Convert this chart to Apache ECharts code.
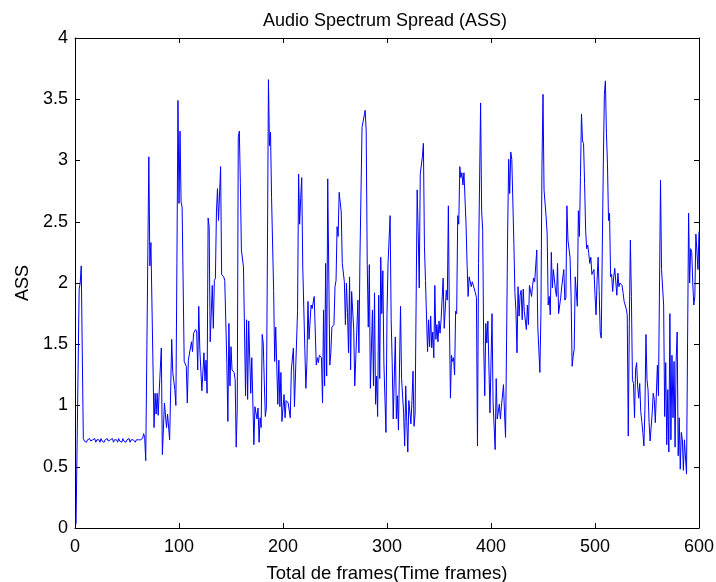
<!DOCTYPE html>
<html>
<head>
<meta charset="utf-8">
<script src="https://cdn.jsdelivr.net/npm/echarts@6/dist/echarts.min.js"></script>
<style>
  html, body { margin: 0; padding: 0; background: #fff; }
  #main { width: 716px; height: 582px; }
</style>
</head>
<body>
<div id="main"></div>
<script>
// frame index -> ASS value
var startPts = [[1, 0.03], [2, 0.02], [4, 1.95], [5, 2.0], [6, 2.14]];

// frames 8..65, the quiet part
var flatStart = 8;
var flatVals = [0.73, 0.71, 0.72, 0.70, 0.72, 0.71, 0.73, 0.71, 0.70, 0.72,
  0.71, 0.73, 0.70, 0.72, 0.71, 0.72, 0.70, 0.73, 0.71, 0.72,
  0.70, 0.72, 0.71, 0.73, 0.71, 0.70, 0.72, 0.71, 0.73, 0.70,
  0.72, 0.71, 0.72, 0.70, 0.73, 0.71, 0.72, 0.70, 0.73, 0.71,
  0.72, 0.70, 0.72, 0.71, 0.73, 0.70, 0.72, 0.71, 0.72, 0.71,
  0.70, 0.72, 0.71, 0.72, 0.71, 0.72, 0.72, 0.73];

var burstPts = [[66, 0.77], [67, 0.74], [68, 0.55], [71, 3.03], [72, 2.14], [73, 2.33], [76, 0.82], [77, 1.1], [78, 0.93], [79, 1.1],
  [80, 0.92], [81, 1.12], [83, 1.47], [84, 0.6], [86, 1.02], [88, 0.82], [89, 0.93], [91, 0.72], [93, 1.54], [94, 1.27],
  [96, 1.13], [97, 1.0], [98, 2.16], [99, 3.49], [100, 2.65], [101, 3.24], [102, 2.66], [103, 2.62], [105, 1.36], [107, 1.32],
  [108, 1.02], [109, 1.37], [110, 1.36], [112, 1.52], [113, 1.44], [114, 1.59], [116, 1.62], [117, 1.6], [118, 1.29], [119, 1.81],
  [120, 1.46], [121, 1.29], [122, 1.12], [124, 1.43], [125, 1.2], [126, 1.37], [127, 1.1], [128, 2.53], [129, 2.46], [130, 1.52],
  [132, 1.98], [133, 1.63], [134, 2.02], [135, 2.04], [136, 2.58], [137, 2.77], [138, 2.51], [140, 2.95], [141, 2.07], [143, 2.05],
  [144, 2.02], [146, 1.35], [147, 0.87], [148, 1.67], [149, 1.16], [150, 1.48], [151, 1.29], [153, 1.27], [154, 1.21], [155, 0.66],
  [156, 0.97], [157, 3.19], [158, 3.24], [159, 2.81], [160, 2.27], [162, 2.13], [164, 1.08], [165, 1.7], [166, 1.05], [167, 1.69],
  [169, 1.1], [170, 1.39], [172, 0.68], [173, 0.99], [175, 0.89], [176, 0.98], [177, 0.7], [178, 0.9], [179, 0.82], [180, 1.58],
  [181, 1.51], [182, 1.2], [183, 0.91], [184, 0.98], [185, 2.21], [186, 3.66], [187, 3.12], [188, 3.23], [189, 2.7], [191, 1.94],
  [192, 1.36], [193, 1.64], [195, 1.01], [196, 1.37], [197, 0.99], [198, 1.27], [199, 0.87], [201, 1.09], [202, 0.9], [203, 1.04],
  [205, 1.02], [207, 0.9], [208, 1.29], [210, 1.47], [211, 0.99], [212, 1.25], [214, 1.77], [215, 2.89], [216, 2.48], [217, 2.69],
  [218, 2.86], [219, 2.13], [221, 1.46], [222, 1.14], [223, 1.35], [224, 1.85], [225, 1.54], [227, 1.82], [228, 1.79]];

var midPts = [[230, 1.89], [232, 1.33], [233, 1.39], [234, 1.35], [235, 1.41], [237, 1.39], [238, 1.02], [239, 1.78], [240, 1.16], [241, 2.16],
  [242, 1.24], [243, 2.85], [245, 1.33], [246, 1.43], [247, 1.64], [249, 1.66], [250, 1.97], [251, 2.02], [252, 2.46], [253, 2.38],
  [254, 2.74], [256, 2.58], [257, 2.16], [259, 2.01], [260, 1.66], [261, 2.0], [262, 1.76], [263, 1.43], [264, 2.05], [265, 1.29],
  [266, 1.93], [268, 1.62], [269, 1.16], [271, 1.62], [272, 1.86], [273, 1.43], [274, 2.21], [276, 3.27], [277, 3.26], [279, 3.41],
  [280, 3.24], [281, 2.15], [282, 1.64], [283, 2.15], [284, 1.14], [286, 1.78], [287, 1.16], [288, 1.92], [289, 1.01], [290, 1.24],
  [291, 0.91], [292, 1.9], [293, 1.22], [294, 2.21], [295, 1.75], [296, 2.1], [297, 1.35], [298, 1.36], [299, 0.78], [300, 1.75],
  [301, 2.16], [303, 2.55], [304, 1.7], [305, 1.35], [306, 0.89], [308, 1.56], [309, 0.89], [310, 1.08], [311, 0.8], [313, 1.81],
  [314, 1.22], [316, 0.94], [317, 0.67], [318, 1.16], [319, 0.87], [320, 0.62], [321, 1.04], [323, 0.85], [324, 1.04], [325, 1.28],
  [326, 0.83], [327, 0.93], [329, 2.76], [330, 2.42], [331, 1.96], [332, 2.89], [334, 3.03], [335, 3.14], [336, 2.3], [337, 2.02],
  [339, 1.44], [340, 1.7], [341, 1.48], [342, 1.73], [343, 1.47], [344, 1.6], [345, 1.39], [346, 1.98], [347, 1.54], [348, 1.66],
  [349, 1.52], [350, 1.69], [351, 1.59], [352, 1.7], [354, 2.04], [355, 1.63], [357, 1.94], [358, 1.86], [359, 2.63], [360, 1.7],
  [361, 1.06], [362, 1.41], [363, 1.36], [364, 1.39], [365, 1.25], [366, 1.77], [367, 1.75], [368, 2.55], [369, 2.48], [370, 2.95],
  [371, 2.86], [372, 2.9], [373, 2.8], [374, 2.9], [376, 2.48], [377, 2.15], [378, 1.89], [379, 2.05], [381, 1.97], [382, 2.01],
  [383, 2.02], [385, 1.92], [386, 1.88], [387, 0.67], [388, 2.16], [390, 3.47], [391, 2.59], [392, 2.43], [393, 1.48], [394, 1.08],
  [395, 1.67], [396, 1.51], [397, 1.69], [399, 0.94], [400, 0.95], [401, 1.75], [402, 1.02], [404, 0.64], [405, 1.22], [406, 0.89],
  [407, 0.9], [408, 1.01], [409, 0.89], [410, 0.99], [412, 1.17], [413, 0.94], [414, 0.74], [415, 1.54], [416, 2.4], [417, 3.01],
  [418, 2.73], [419, 3.07], [420, 3.01], [422, 2.32], [423, 1.92], [424, 1.77], [425, 1.43], [426, 1.97], [427, 1.73], [428, 1.9],
  [429, 1.94], [430, 1.7], [431, 1.95], [432, 1.77], [434, 1.62], [435, 1.82], [436, 1.66], [437, 1.98], [439, 1.89], [440, 1.98],
  [441, 2.04], [442, 2.01], [444, 2.27], [445, 1.64], [447, 1.27], [448, 1.75], [449, 2.95], [450, 3.54], [451, 2.76], [453, 2.54],
  [454, 2.4], [455, 1.82], [456, 1.89], [457, 1.74], [458, 2.25], [459, 1.96]];

var endPts = [[460, 2.11], [462, 1.94], [463, 1.89], [464, 2.16], [465, 1.75], [467, 1.88], [468, 1.97], [470, 2.11], [471, 1.86], [472, 1.88],
  [473, 2.63], [474, 2.35], [476, 2.21], [477, 1.89], [478, 1.32], [479, 1.4], [480, 1.46], [481, 2.05], [482, 2.05], [483, 1.81],
  [484, 2.59], [485, 2.38], [486, 2.86], [487, 3.38], [488, 3.16], [489, 3.14], [490, 2.81], [491, 2.43], [492, 2.28], [493, 2.31],
  [494, 2.24], [495, 2.16], [496, 2.21], [497, 2.07], [499, 2.11], [500, 1.9], [501, 1.74], [502, 2.02], [503, 2.21], [504, 1.94],
  [505, 1.6], [506, 1.55], [507, 2.27], [508, 2.97], [509, 3.54], [510, 3.65], [511, 3.22], [512, 2.97], [513, 2.51], [514, 2.57],
  [515, 2.05], [516, 2.07], [517, 1.93], [518, 2.05], [519, 2.12], [521, 1.9], [522, 2.08], [523, 1.97], [524, 2.0], [526, 1.98],
  [527, 1.92], [528, 1.85], [530, 1.79], [531, 1.74], [532, 0.75], [533, 1.67], [534, 2.35], [535, 1.89], [536, 1.21], [537, 1.18],
  [538, 0.9], [539, 1.29], [540, 1.35], [541, 1.16], [542, 1.06], [543, 1.18], [544, 0.95], [545, 0.87], [546, 0.78], [547, 0.67],
  [548, 0.97], [549, 1.58], [550, 1.21], [551, 1.13], [552, 0.86], [553, 0.71], [555, 0.94], [556, 1.1], [557, 1.05], [558, 0.86],
  [560, 1.33], [561, 1.08], [563, 2.84], [564, 2.11], [566, 1.82], [567, 0.91], [568, 1.35], [569, 0.68], [570, 1.13], [571, 0.62],
  [572, 1.75], [573, 0.72], [574, 1.41], [575, 0.9], [576, 1.36], [577, 0.66], [578, 1.36], [579, 1.6], [580, 0.59], [581, 0.9],
  [582, 0.48], [583, 0.78], [584, 0.72], [585, 0.47], [586, 0.72], [587, 0.71], [588, 0.44], [590, 2.57], [591, 2.0], [592, 2.28],
  [593, 2.25], [594, 2.0], [595, 1.82], [596, 1.89], [597, 2.4], [598, 2.4], [599, 2.11], [600, 2.42]];

var xTicks = [0, 100, 200, 300, 400, 500, 600];
var yTicks = [0, 0.5, 1, 1.5, 2, 2.5, 3, 3.5, 4];

var chart = echarts.init(document.getElementById('main'), null, { renderer: 'canvas' });

var flatPts = flatVals.map(function (v, i) { return [flatStart + i, v]; });
var seriesData = [].concat(startPts, flatPts, burstPts, midPts, endPts);

var font = 'Liberation Sans, Arial, sans-serif';
var axisLine = { show: true, onZero: false, lineStyle: { color: '#000', width: 1 } };
var tick = { show: true, inside: true, length: 5, lineStyle: { color: '#000' } };

var option = {
  backgroundColor: '#fff',
  animation: false,
  title: {
    text: 'Audio Spectrum Spread (ASS)',
    left: 380,
    top: 7,
    textAlign: 'center',
    textStyle: { fontFamily: font, fontSize: 18, fontWeight: 'normal', color: '#000' }
  },
  grid: { left: 75, right: 17, top: 38, bottom: 54, containLabel: false, outerBoundsMode: 'none' },
  xAxis: [{
    type: 'value',
    min: xTicks[0],
    max: xTicks[xTicks.length - 1],
    interval: 100,
    position: 'bottom',
    name: 'Total de frames(Time frames)',
    nameLocation: 'middle',
    nameGap: 36,
    nameTextStyle: { fontFamily: font, fontSize: 18.5, color: '#000' },
    axisLine: axisLine,
    axisTick: tick,
    axisLabel: { fontFamily: font, fontSize: 18, color: '#000', margin: 10 },
    splitLine: { show: false }
  }, {
    type: 'value',
    min: xTicks[0],
    max: xTicks[xTicks.length - 1],
    interval: 100,
    position: 'top',
    axisLine: axisLine,
    axisTick: tick,
    axisLabel: { show: false },
    splitLine: { show: false }
  }],
  yAxis: [{
    type: 'value',
    min: yTicks[0],
    max: yTicks[yTicks.length - 1],
    interval: 0.5,
    position: 'left',
    name: 'ASS',
    nameLocation: 'middle',
    nameRotate: 90,
    nameGap: 43,
    nameTextStyle: { fontFamily: font, fontSize: 18, color: '#000' },
    axisLine: axisLine,
    axisTick: tick,
    axisLabel: { fontFamily: font, fontSize: 18, color: '#000', margin: 7 },
    splitLine: { show: false }
  }, {
    type: 'value',
    min: yTicks[0],
    max: yTicks[yTicks.length - 1],
    interval: 0.5,
    position: 'right',
    axisLine: axisLine,
    axisTick: tick,
    axisLabel: { show: false },
    splitLine: { show: false }
  }],
  series: [{
    type: 'line',
    data: seriesData,
    xAxisIndex: 0,
    yAxisIndex: 0,
    showSymbol: false,
    symbol: 'none',
    lineStyle: { color: '#0000ff', width: 1 },
    silent: true
  }]
};

chart.setOption(option);
</script>
</body>
</html>
